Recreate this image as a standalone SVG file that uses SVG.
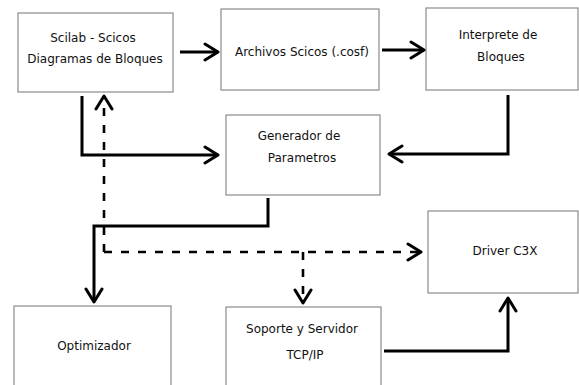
<svg xmlns="http://www.w3.org/2000/svg" width="579" height="385" viewBox="0 0 579 385">
  <defs>
    <marker id="arr" viewBox="0 0 17 20" refX="15" refY="10" markerWidth="17" markerHeight="20" markerUnits="userSpaceOnUse" orient="auto">
      <path d="M2,2 L15,10 L2,18" fill="none" stroke="#000" stroke-width="3" stroke-linecap="round" stroke-linejoin="round"/>
    </marker>
    <style>
      .box { fill: #fff; stroke: #8a8a8a; stroke-width: 1.2; }
      .lbl { font-family: "DejaVu Sans", sans-serif; font-size: 12px; fill: #111; text-anchor: middle; }
      .c { fill: none; stroke: #000; stroke-width: 3; }
      .d { fill: none; stroke: #000; stroke-width: 2.6; stroke-dasharray: 8 9; }
    </style>
  </defs>
  <rect width="579" height="385" fill="#fff"/>

  <g id="scilab">
    <rect class="box" x="18" y="13" width="155" height="79"/>
    <text class="lbl" x="93" y="42">Scilab - Scicos</text>
    <text class="lbl" x="95" y="63">Diagramas de Bloques</text>
  </g>
  <g id="archivos">
    <rect class="box" x="221" y="9" width="158" height="81"/>
    <text class="lbl" x="302" y="56">Archivos Scicos (.cosf)</text>
  </g>
  <g id="interprete">
    <rect class="box" x="426" y="8" width="152" height="82"/>
    <text class="lbl" x="498" y="39">Interprete de</text>
    <text class="lbl" x="501" y="61">Bloques</text>
  </g>
  <g id="generador">
    <rect class="box" x="226" y="115" width="154" height="80"/>
    <text class="lbl" x="299" y="140">Generador de</text>
    <text class="lbl" x="302" y="162">Parametros</text>
  </g>
  <g id="driver">
    <rect class="box" x="428" y="211" width="150" height="82"/>
    <text class="lbl" x="505" y="255">Driver C3X</text>
  </g>
  <g id="optimizador">
    <rect class="box" x="14" y="306" width="157" height="90"/>
    <text class="lbl" x="94" y="350">Optimizador</text>
  </g>
  <g id="soporte">
    <rect class="box" x="226" y="307" width="155" height="90"/>
    <text class="lbl" x="302" y="333">Soporte y Servidor</text>
    <text class="lbl" x="305" y="359">TCP/IP</text>
  </g>

  <g id="connectors">
    <path class="c" d="M180,52 H218" marker-end="url(#arr)"/>
    <path class="c" d="M382,50 H424" marker-end="url(#arr)"/>
    <path class="c" d="M508,95 V154 H389" marker-end="url(#arr)"/>
    <path class="c" d="M82,96 V155 H218" marker-end="url(#arr)"/>
    <path class="c" d="M268,198 V226 H94 V302" marker-end="url(#arr)"/>
    <path class="c" d="M384,351 H508 V298" marker-end="url(#arr)"/>
    <path class="d" d="M104,252 V96" marker-end="url(#arr)"/>
    <path class="d" d="M104,252 H421" marker-end="url(#arr)"/>
    <path class="d" d="M303,252 V303" marker-end="url(#arr)"/>
  </g>
</svg>
